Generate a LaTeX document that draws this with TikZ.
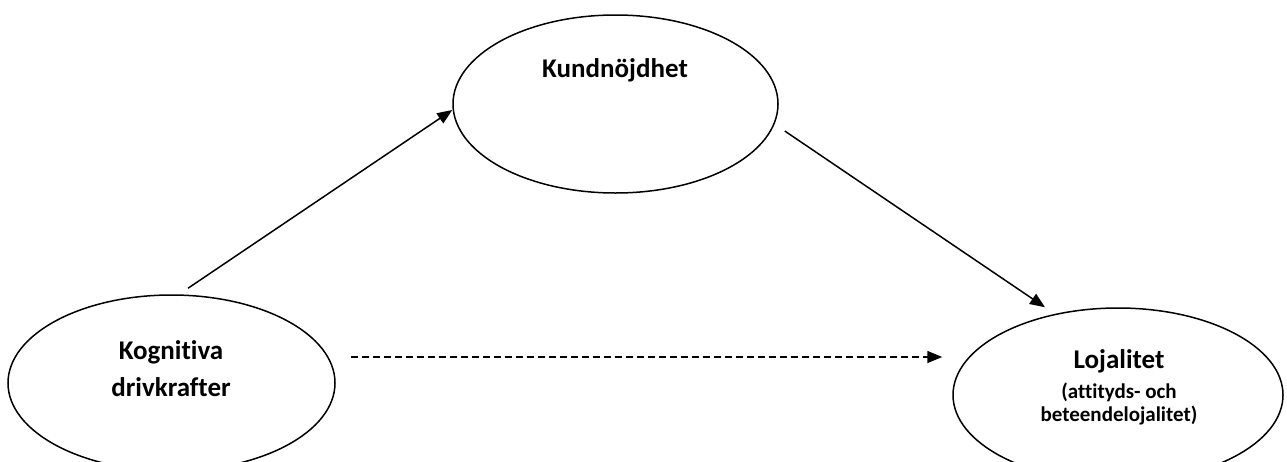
\documentclass[tikz,border=0pt]{standalone}
\usepackage{fontspec}
\setmainfont{Carlito}[RawFeature={-liga;-dlig;-clig}]
\usetikzlibrary{shapes.geometric,arrows.meta,calc}
\begin{document}
\begin{tikzpicture}[x=1pt,y=-1pt,
  oval/.style={draw, line width=1.5pt, ellipse, inner sep=0pt},
  lbl/.style={font=\bfseries\fontsize{27}{37}\selectfont, align=center, inner sep=0pt},
  conn/.style={line width=1.5pt, -{Triangle[length=15pt,width=12pt]}},
]
\useasboundingbox (0,0) rectangle (1287,461);
\node[oval, minimum width=325pt, minimum height=178pt] (kund) at (615.5,104) {};
\node[oval, minimum width=327pt, minimum height=176pt] (kog) at (171.5,383) {};
\node[oval, minimum width=330pt, minimum height=174pt] (loj) at (1118,395) {};
\node[lbl] (kundt) at (615,70) {Kundnöjdhet};
\node[lbl] (kogt) at (171,369) {Kognitiva\\drivkrafter};
\node[lbl] (lojt) at (1119,361) {Lojalitet};
\node[lbl, font=\bfseries\fontsize{21}{23}\selectfont] (lojs) at (1119,404) {(attityds- och\\beteendelojalitet)};
\draw[conn] ($(kog.north)+(16.5,-6)$) -- ($(kund.west)+(0,6)$);
\draw[conn] ($(kund.east)+(6,27)$) -- ($(loj.north)+(-73,0)$);
\draw[conn, dash pattern=on 7pt off 4pt] ($(kog.east)+(15,-26)$) -- ($(loj.west)+(-10,-38)$);
\end{tikzpicture}
\end{document}
